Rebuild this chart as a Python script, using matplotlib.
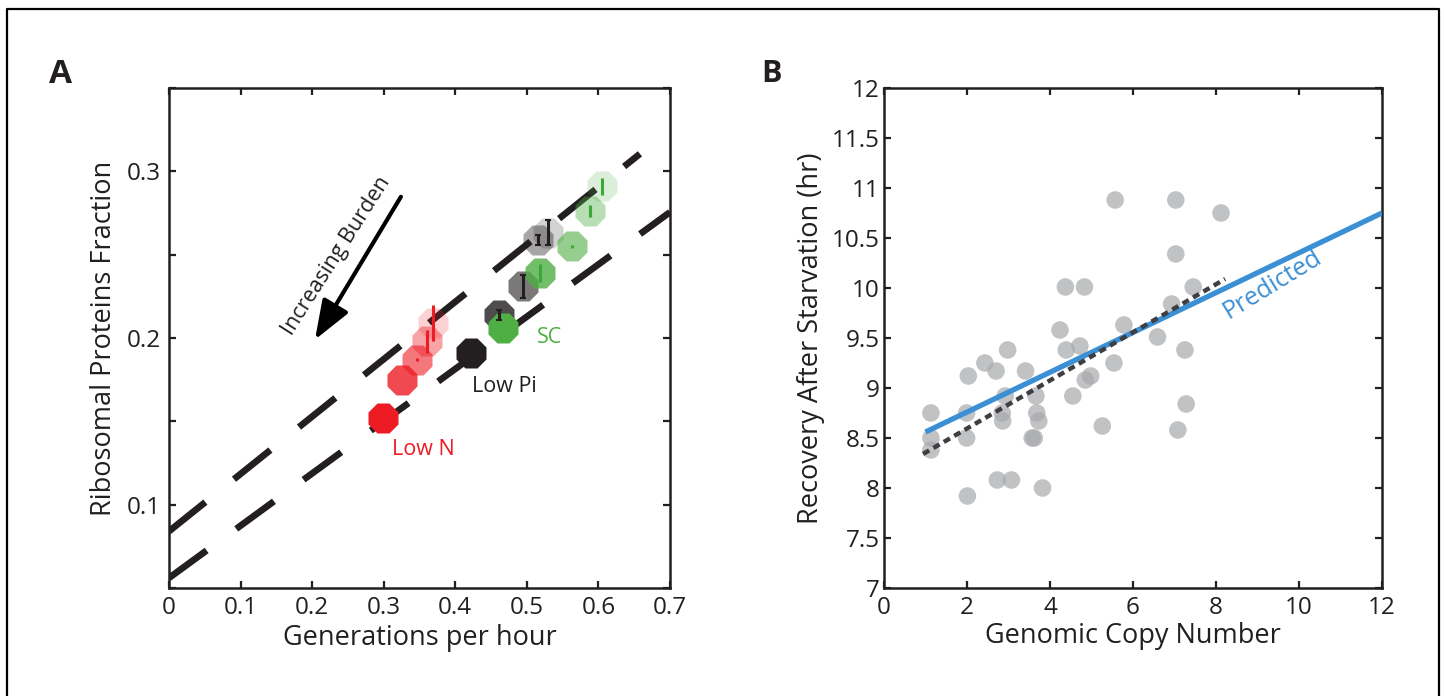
import numpy as np
import matplotlib
matplotlib.use('Agg')
from matplotlib import pyplot as plt
from matplotlib.lines import Line2D

plt.rcParams['font.family'] = ['Open Sans', 'DejaVu Sans']

#-------------------------------------------------------------------------------
# data
#-------------------------------------------------------------------------------

# panel A: growth rate vs ribosomal fraction, by condition and burden level
lown_x   = [0.299, 0.325, 0.347, 0.360, 0.369]
lown_y   = [0.152, 0.175, 0.187, 0.198, 0.209]
lown_err = [0.000, 0.000, 0.001, 0.007, 0.011]

lowpi_x   = [0.422, 0.461, 0.494, 0.516, 0.529]
lowpi_y   = [0.191, 0.214, 0.231, 0.259, 0.263]
lowpi_err = [0.000, 0.003, 0.007, 0.003, 0.0075]

sc_x   = [0.467, 0.518, 0.563, 0.588, 0.605]
sc_y   = [0.206, 0.239, 0.255, 0.276, 0.291]
sc_err = [0.000, 0.0055, 0.001, 0.0035, 0.005]

burden_alpha = [1.0, 0.8, 0.6, 0.4, 0.2]

fit_upper_x = [0.0, 0.658]
fit_upper_y = [0.084, 0.3105]
fit_lower_x = [0.0, 0.70]
fit_lower_y = [0.056, 0.2755]

# panel B: recovery time vs genomic copy number
copy_num = [5.57, 7.03, 8.12, 7.03, 4.37, 4.83, 7.45, 6.93, 4.24, 5.78,
            6.59, 2.98, 4.39, 4.72, 7.25, 2.43, 5.54, 2.03, 2.70, 3.41,
            4.98, 4.85, 2.92, 3.66, 4.55, 1.13, 1.99, 2.85, 3.68, 7.28,
            2.86, 3.73, 5.26, 7.08, 1.13, 1.99, 3.57, 3.62, 1.13, 2.73,
            3.07, 3.82, 2.01]
recovery = [10.88, 10.88, 10.75, 10.34, 10.01, 10.01, 10.01, 9.84, 9.58, 9.63,
            9.51, 9.38, 9.38, 9.42, 9.38, 9.25, 9.25, 9.12, 9.17, 9.17,
            9.12, 9.08, 8.92, 8.92, 8.92, 8.75, 8.75, 8.75, 8.75, 8.84,
            8.67, 8.67, 8.62, 8.58, 8.50, 8.50, 8.50, 8.50, 8.38, 8.08,
            8.08, 8.00, 7.92]

pred_x = [1.0, 12.0]
pred_y = [8.56, 10.75]
obs_fit_x = [0.94, 8.22]
obs_fit_y = [8.34, 10.09]

#-------------------------------------------------------------------------------
# figure
#-------------------------------------------------------------------------------

def style_box(ax):
  for s in ax.spines.values():
    s.set_linewidth(1.8)
    s.set_color('#231f20')
  ax.tick_params(direction='in', length=5, width=1.6, top=True, right=True,
                 labelsize=17.5, colors='#231f20', pad=6)

fig = plt.figure(figsize=(14.44, 6.96), dpi=100)

# frame round the figure (open at the bottom)
fig.add_artist(Line2D([0.0048, 0.0048, 0.9965, 0.9965], [0.0, 0.987, 0.987, 0.0],
                      transform=fig.transFigure, color='k', lw=1.6))

#--- panel A
ax = fig.add_axes([0.1170, 0.1552, 0.3470, 0.7184])
ax.plot(fit_upper_x, fit_upper_y, color='#231f20', lw=4.8, dashes=(7, 5.5),
        solid_capstyle='butt', dash_capstyle='butt', zorder=2)
ax.plot(fit_lower_x, fit_lower_y, color='#231f20', lw=4.8, dashes=(7, 5.5),
        solid_capstyle='butt', dash_capstyle='butt', zorder=2)

groups = [(lown_x, lown_y, lown_err, '#ed1c24', '#ed1c24', 0),
          (lowpi_x, lowpi_y, lowpi_err, '#231f20', '#231f20', 2),
          (sc_x, sc_y, sc_err, '#4fae44', '#3aa935', 0)]
for xs, ys, es, c, ec, cap in groups:
  for x, y, e, a in zip(xs, ys, es, burden_alpha):
    ax.plot(x, y, marker='8', ms=23, mfc=c, mec='none', alpha=a, zorder=3)
    if e > 0:
      ax.errorbar(x, y, yerr=e, fmt='none', ecolor=ec, elinewidth=2.2,
                  capsize=cap, capthick=1.5, zorder=4)

ax.annotate('', xy=(0.204, 0.199), xytext=(0.324, 0.2847),
            arrowprops=dict(arrowstyle='-|>,head_length=0.8,head_width=0.3',
                            color='k', lw=3, mutation_scale=30,
                            shrinkA=0, shrinkB=0))
ax.text(0.234, 0.249, 'Increasing Burden', rotation=57.5, ha='center',
        va='center', fontsize=15.5, color='#231f20')
ax.text(0.356, 0.133, 'Low N', ha='center', va='center', fontsize=15.5,
        color='#ed1c24')
ax.text(0.468, 0.171, 'Low Pi', ha='center', va='center', fontsize=15.5,
        color='#231f20')
ax.text(0.532, 0.200, 'SC', ha='center', va='center', fontsize=15.5,
        color='#4fae44')

ax.set_xlim(0, 0.7)
ax.set_ylim(0.05, 0.35)
ax.set_xticks(np.arange(0, 0.71, 0.1))
ax.set_xticklabels(['0', '0.1', '0.2', '0.3', '0.4', '0.5', '0.6', '0.7'])
ax.set_yticks(np.arange(0.05, 0.351, 0.05))
ax.set_yticklabels(['', '0.1', '', '0.2', '', '0.3', ''])
style_box(ax)
ax.set_xlabel('Generations per hour', fontsize=19.5, color='#231f20', labelpad=3)
ax.set_ylabel('Ribosomal Proteins Fraction', fontsize=19.5, color='#231f20',
              labelpad=6)
fig.text(0.042, 0.893, 'A', fontsize=24, fontweight='bold', ha='center',
         va='center', color='#231f20')

#--- panel B
bx = fig.add_axes([0.6122, 0.1552, 0.3449, 0.7184])
bx.scatter(copy_num, recovery, s=160, color='#a7a9ac', alpha=0.7,
           edgecolors='none', zorder=2)
bx.plot(pred_x, pred_y, color='#3b8fd4', lw=3.8, solid_capstyle='butt', zorder=3)
bx.plot(obs_fit_x, obs_fit_y, color='#3f3f41', lw=3.2, dashes=(1.6, 1.1),
        dash_capstyle='butt', zorder=4)
bx.text(9.35, 10.04, 'Predicted', rotation=31.5, ha='center', va='center',
        fontsize=18, color='#3b8fd4')

bx.set_xlim(0, 12)
bx.set_ylim(7, 12)
bx.set_xticks(np.arange(0, 13, 2))
bx.set_yticks(np.arange(7, 12.01, 0.5))
bx.set_yticklabels(['7', '7.5', '8', '8.5', '9', '9.5', '10', '10.5', '11',
                    '11.5', '12'])
style_box(bx)
bx.tick_params(axis='y', pad=3)
bx.set_xlabel('Genomic Copy Number', fontsize=19.5, color='#231f20', labelpad=1)
bx.set_ylabel('Recovery After Starvation (hr)', fontsize=19.5, color='#231f20',
              labelpad=5)
fig.text(0.534, 0.893, 'B', fontsize=22, fontweight='bold', ha='center',
         va='center', color='#231f20')

fig.savefig('out.png', dpi=100)
